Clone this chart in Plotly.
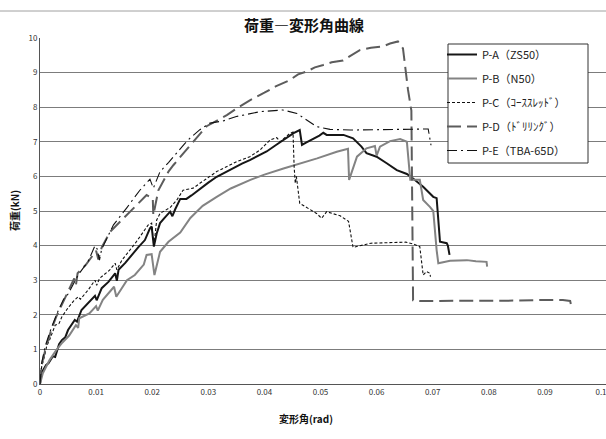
import plotly.graph_objects as go

# ---- data ----
pa_x = [0, 0.0002, 0.0011, 0.0015, 0.0023, 0.0027, 0.0034, 0.0039, 0.0045, 0.005, 0.0062, 0.0066, 0.0074, 0.0086,
        0.0098, 0.0101, 0.011, 0.0122, 0.0131, 0.0134, 0.0137, 0.014, 0.0152, 0.0163, 0.0175, 0.0187, 0.0196, 0.0199,
        0.0203, 0.0208, 0.0214, 0.0222, 0.0232, 0.0236, 0.0241, 0.025, 0.0261, 0.027, 0.0285, 0.03, 0.0315,
        0.033, 0.0345, 0.036, 0.0374, 0.039, 0.0404, 0.042, 0.0434, 0.0445, 0.0452, 0.0463, 0.0467, 0.0475,
        0.0487, 0.0498, 0.0505, 0.0511, 0.0529, 0.0541, 0.0558, 0.0573, 0.0582, 0.06, 0.0618, 0.0636, 0.0654,
        0.0665, 0.0683, 0.0701, 0.0707, 0.0713, 0.0725, 0.0727, 0.073]
pa_y = [0, 0.3, 0.55, 0.6, 0.8, 0.78, 1.15, 1.27, 1.35, 1.56, 1.85, 1.8, 2.14, 2.35,
        2.55, 2.42, 2.77, 2.95, 3.15, 3.2, 2.98, 3.3, 3.5, 3.73, 3.95, 4.16, 4.5, 4.55,
        3.97, 4.35, 4.65, 4.8, 4.98, 4.85, 5.05, 5.35, 5.35, 5.45, 5.64, 5.82, 5.99,
        6.12, 6.23, 6.37, 6.47, 6.6, 6.72, 6.9, 7.05, 7.15, 7.25, 7.34, 6.91, 6.98,
        7.08, 7.18, 7.26, 7.2, 7.2, 7.2, 7.1, 6.86, 6.67, 6.57, 6.38, 6.18, 6.07,
        5.94, 5.7, 5.41, 5.37, 4.11, 4.07, 4.0, 3.73]

pb_x = [0, 0.0005, 0.0017, 0.0029, 0.004, 0.0052, 0.0064, 0.0068, 0.007, 0.0088, 0.01, 0.0103, 0.0112,
        0.0124, 0.0132, 0.0136, 0.0145, 0.0155, 0.0169, 0.0185, 0.019, 0.0199, 0.0204, 0.0214, 0.0229, 0.0241,
        0.025, 0.0268, 0.029, 0.0315, 0.034, 0.0375, 0.04, 0.0434, 0.046, 0.0494, 0.0529, 0.0549, 0.0551,
        0.0565, 0.0582, 0.0597, 0.06, 0.0606, 0.0624, 0.0642, 0.0654, 0.066, 0.0677, 0.0683, 0.0695, 0.0701,
        0.0707, 0.071, 0.0731, 0.0761, 0.0777, 0.0787, 0.0796, 0.0797]
pb_y = [0, 0.31, 0.69, 0.98, 1.2, 1.4, 1.7, 1.62, 1.9, 2.04, 2.25, 2.12, 2.43,
        2.67, 2.81, 2.52, 2.75, 3.0, 3.15, 3.45, 3.73, 3.75, 3.15, 3.82, 4.11, 4.26,
        4.38, 4.8, 5.15, 5.41, 5.65, 5.9, 6.05, 6.23, 6.35, 6.52, 6.71, 6.8, 5.9,
        6.57, 6.81, 6.88, 6.6, 6.86, 7.02, 7.08, 7.0, 5.9, 5.9, 5.32, 5.12, 5.0,
        3.87, 3.49, 3.56, 3.58, 3.55, 3.53, 3.53, 3.39]

pc_x = [0, 0.0003, 0.0008, 0.0012, 0.0017, 0.0027, 0.0034, 0.0039, 0.005, 0.006, 0.0068, 0.0072, 0.0086,
        0.0098, 0.0101, 0.0106, 0.0124, 0.0134, 0.0137, 0.0146, 0.017, 0.0193, 0.0199, 0.0203, 0.0208,
        0.0214, 0.0232, 0.0244, 0.0255, 0.0273, 0.0285, 0.0315, 0.0351, 0.0374, 0.0392, 0.041, 0.0422,
        0.0428, 0.0446, 0.0451, 0.0453, 0.0455, 0.0457, 0.0463, 0.0493, 0.0502, 0.0511, 0.0535, 0.055,
        0.0553, 0.0558, 0.059, 0.0652, 0.0665, 0.0677, 0.0683, 0.0689, 0.0695, 0.0696]
pc_y = [0, 0.5, 0.8, 1.1, 1.27, 1.7, 1.75, 1.94, 2.2, 2.4, 2.52, 2.45, 2.72,
        3.0, 2.85, 3.05, 3.29, 3.49, 3.3, 3.58, 4.07, 4.6, 4.65, 3.98, 4.74,
        4.93, 5.1, 5.32, 5.6, 5.66, 5.8, 6.14, 6.43, 6.57, 6.76, 7.05, 7.12,
        7.0, 7.25, 7.28, 6.28, 5.8, 6.0, 5.22, 4.93, 4.79, 4.98, 4.86, 4.7,
        4.4, 3.95, 4.07, 4.1, 4.05, 3.97, 3.15, 3.25, 3.2, 3.1]

pd_x = [0, 0.0002, 0.0011, 0.002, 0.0029, 0.004, 0.0052, 0.0061, 0.0064, 0.0067, 0.0082, 0.01, 0.0104,
        0.011, 0.0125, 0.016, 0.0181, 0.019, 0.0201, 0.0202, 0.0211, 0.0229, 0.0238, 0.025, 0.0273, 0.0297,
        0.0315, 0.0333, 0.0351, 0.0374, 0.04, 0.042, 0.0445, 0.046, 0.0475, 0.049, 0.0505, 0.052, 0.054,
        0.0555, 0.057, 0.059, 0.0612, 0.0624, 0.0638, 0.0647, 0.0656, 0.0662, 0.0665, 0.0677, 0.075, 0.085,
        0.09, 0.0932, 0.0945, 0.0948]
pd_y = [0, 0.5, 1.08, 1.56, 1.95, 2.33, 2.72, 3.05, 2.85, 3.2, 3.45, 3.85, 3.6,
        3.95, 4.4, 4.98, 5.32, 5.46, 5.37, 4.88, 5.6, 6.14, 6.33, 6.57, 7.0, 7.45,
        7.6, 7.77, 7.97, 8.2, 8.42, 8.6, 8.78, 8.95, 9.03, 9.15, 9.22, 9.3, 9.35,
        9.5, 9.65, 9.72, 9.76, 9.84, 9.9, 9.7, 8.5, 7.9, 2.42, 2.4, 2.4, 2.41,
        2.43, 2.43, 2.4, 2.19]

pe_x = [0, 0.0003, 0.0009, 0.0014, 0.0021, 0.0033, 0.0042, 0.005, 0.0068, 0.0086, 0.0098, 0.0102,
        0.0106, 0.011, 0.0131, 0.0155, 0.0178, 0.0196, 0.0202, 0.0214, 0.0229, 0.0258, 0.0267, 0.0285,
        0.0303, 0.0326, 0.035, 0.0392, 0.0433, 0.0458, 0.0475, 0.0493, 0.0517, 0.0553, 0.06, 0.065,
        0.0692, 0.0697]
pe_y = [0, 0.6, 1.08, 1.35, 1.66, 2.14, 2.45, 2.6, 3.15, 3.55, 4.0, 3.9,
        3.58, 3.9, 4.6, 5.1, 5.6, 5.92, 5.66, 6.14, 6.4, 6.95, 7.1, 7.35,
        7.54, 7.6, 7.73, 7.87, 7.92, 7.82, 7.63, 7.44, 7.36, 7.34, 7.35, 7.36,
        7.37, 6.9]

names = ["P-A（ZS50）", "P-B（N50）", "P-C（ｺｰｽｽﾚｯﾄﾞ）", "P-D（ﾄﾞﾘﾘﾝｸﾞ）", "P-E（TBA-65D）"]
x_ticks = [0, 0.01, 0.02, 0.03, 0.04, 0.05, 0.06, 0.07, 0.08, 0.09, 0.1]
x_tick_labels = ["0", "0.01", "0.02", "0.03", "0.04", "0.05", "0.06", "0.07", "0.08", "0.09", "0.1"]
y_ticks = list(range(0, 11))

series = [
    (pa_x, pa_y, dict(color="#161616", width=2.0, dash="solid")),
    (pb_x, pb_y, dict(color="#838383", width=2.0, dash="solid")),
    (pc_x, pc_y, dict(color="#111111", width=1.1, dash="3px,2px")),
    (pd_x, pd_y, dict(color="#5c5c5c", width=2.0, dash="14px,6px")),
    (pe_x, pe_y, dict(color="#111111", width=1.1, dash="10px,4px,2px,4px")),
]

FONT = "Noto Sans CJK JP"
fig = go.Figure()
for i, (xs, ys, ln) in enumerate(series):
    fig.add_trace(go.Scatter(x=xs, y=ys, mode="lines", name=names[i], line=ln,
                             legendgroup=f"g{i}"))

W, H = 606, 439
L, R, T, B = 40, 0, 38, 55
pw, ph = W - L - R, H - T - B
X_END = 0.1 * pw / 561.0   # 0.1 sits at pixel 601, the grid runs to the edge


def px(x):
    return (x - L) / pw


def py(y):
    return (H - B - y) / ph


fig.update_layout(
    width=W, height=H,
    margin=dict(l=L, r=R, t=T, b=B, autoexpand=False),
    paper_bgcolor="white", plot_bgcolor="white",
    font=dict(family=FONT, color="#222"),
    showlegend=True,
    legend=dict(x=px(442), y=py(40), xanchor="left", yanchor="top",
                borderwidth=0, bgcolor="rgba(0,0,0,0)",
                font=dict(size=11, family=FONT, color="#222"),
                tracegroupgap=5, itemwidth=30),
    xaxis=dict(range=[0, X_END], tickvals=x_ticks, ticktext=x_tick_labels,
               showgrid=False, zeroline=False, showline=True, linecolor="#555", linewidth=1,
               ticks="", tickfont=dict(size=8, color="#333"), ticklabeloverflow="allow",
               automargin=False, fixedrange=True),
    yaxis=dict(range=[0, 10], tickvals=y_ticks, showgrid=True, gridcolor="#7c7c7c", gridwidth=1,
               zeroline=False, showline=True, linecolor="#555", linewidth=1,
               ticks="", tickfont=dict(size=8, color="#333"), automargin=False, fixedrange=True),
    annotations=[
        dict(text="<b>荷重―変形角曲線</b>", x=px(304), y=py(25), xref="paper", yref="paper",
             showarrow=False, font=dict(size=15, family=FONT, color="#111"), xanchor="center", yanchor="middle"),
        dict(text="<b>変形角(rad)</b>", x=px(306), y=py(418), xref="paper", yref="paper",
             showarrow=False, font=dict(size=10, family=FONT, color="#111"), xanchor="center", yanchor="middle"),
        dict(text="<b>荷重(kN)</b>", x=px(14), y=py(211), xref="paper", yref="paper", textangle=-90,
             showarrow=False, font=dict(size=10, family=FONT, color="#111"), xanchor="center", yanchor="middle"),
    ],
    shapes=[
        dict(type="line", xref="paper", yref="paper", x0=px(0), x1=px(606), y0=py(11), y1=py(11),
             line=dict(color="#a0a0a0", width=1)),
        dict(type="rect", xref="paper", yref="paper", x0=px(448), x1=px(588), y0=py(44), y1=py(163),
             line=dict(color="#333333", width=1), fillcolor="white", layer="above"),
    ],
)

fig.write_html("out.html", config={"displayModeBar": False},
               post_script="document.body.style.margin='0';document.body.style.overflow='hidden';")
